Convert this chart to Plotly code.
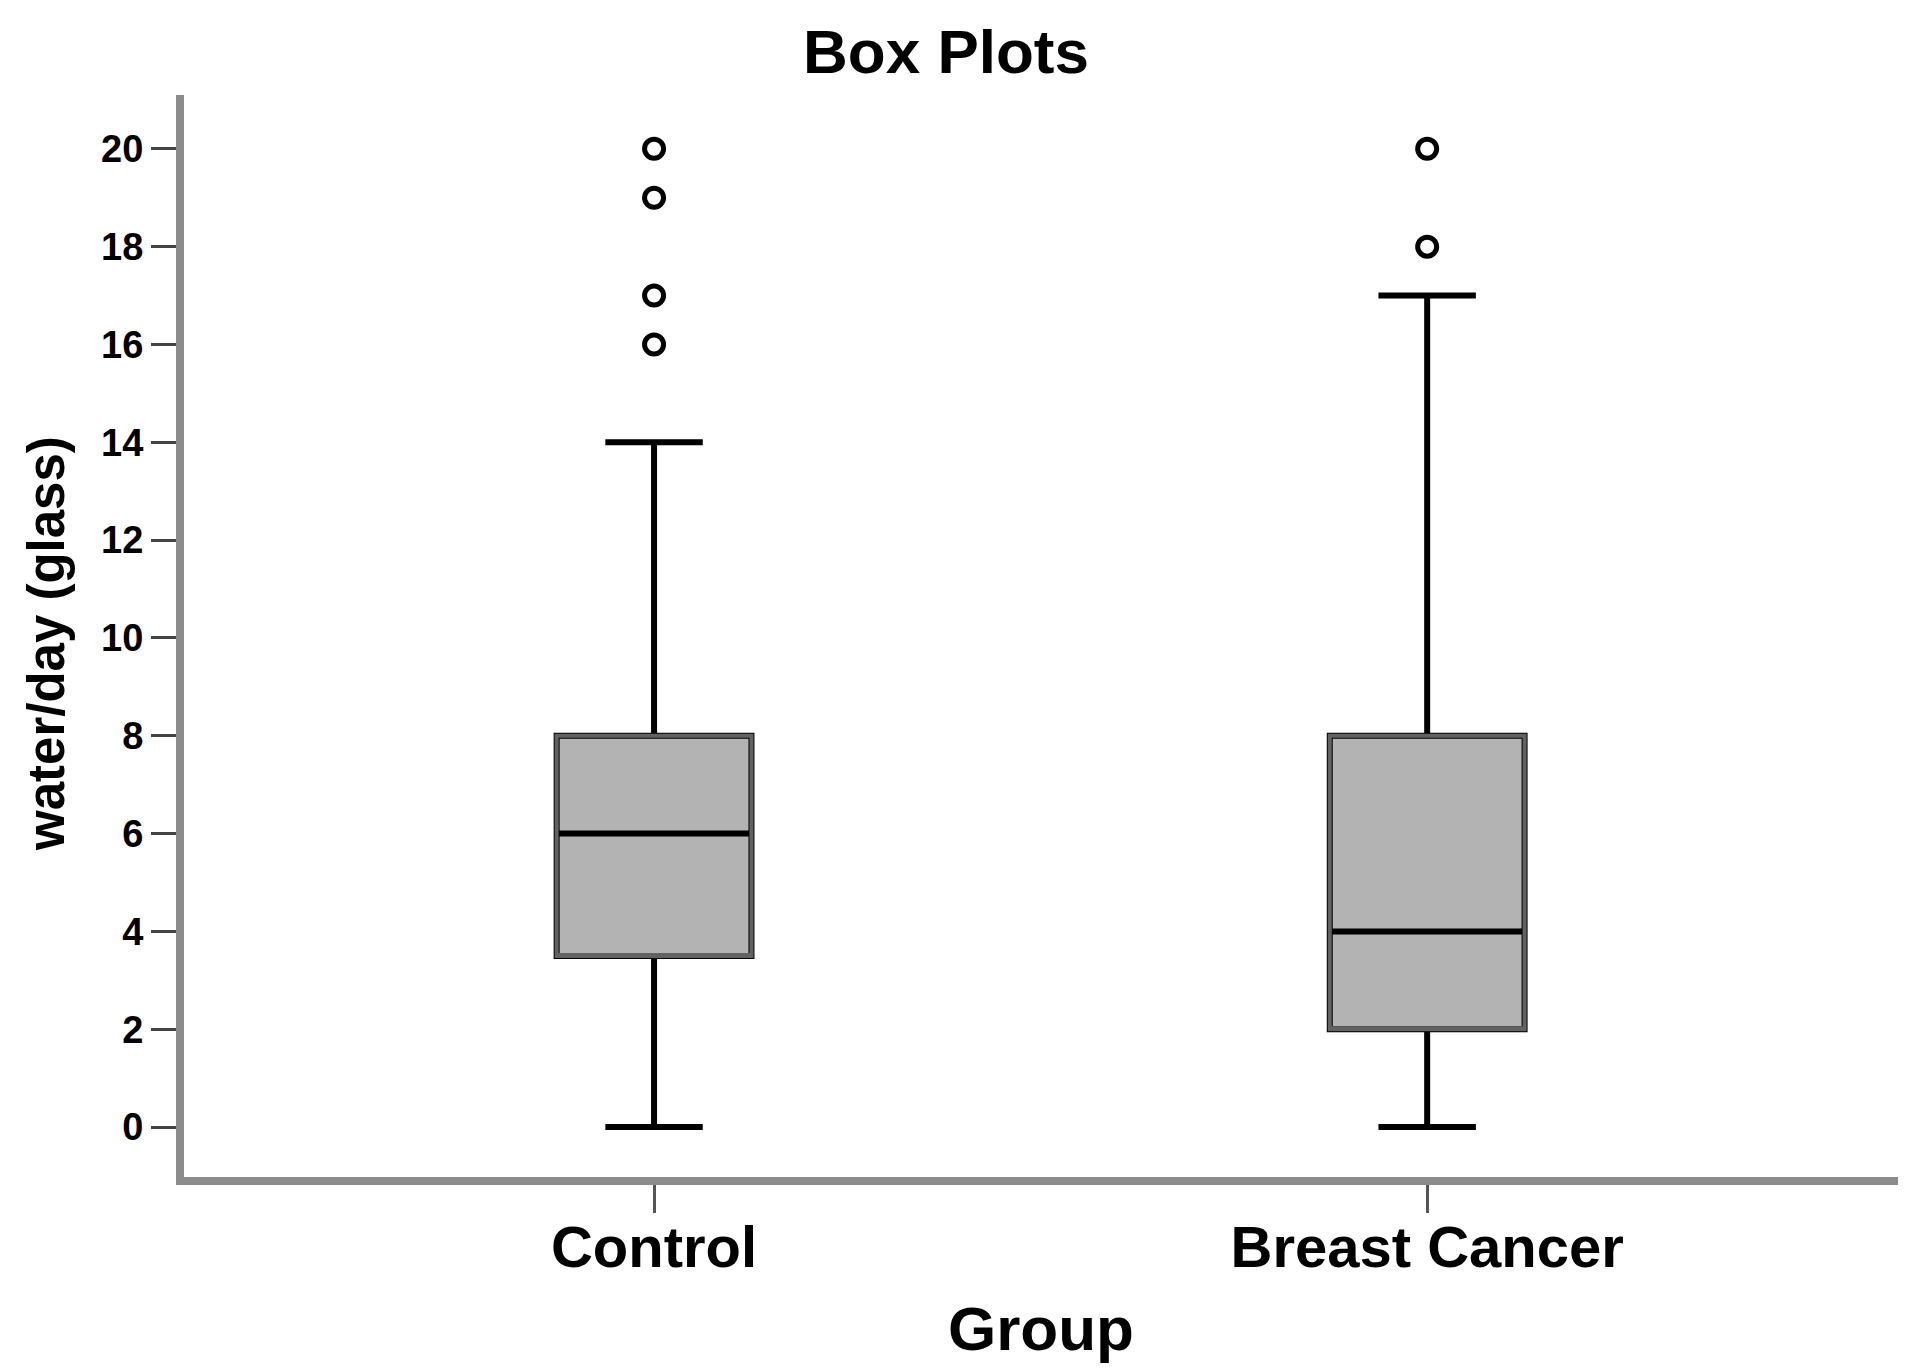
import plotly.graph_objects as go

# ---- data ----
groups = ["Control", "Breast Cancer"]
lower_fence = [0, 0]
q1 = [3.5, 2]
median = [6, 4]
q3 = [8, 8]
upper_fence = [14, 17]
control_outliers = [16, 17, 19, 20]
cancer_outliers = [18, 20]
y_ticks = [0, 2, 4, 6, 8, 10, 12, 14, 16, 18, 20]

title_text = "Box Plots"
x_title = "Group"
y_title = "water/day (glass)"

# page is shown with an 8px body margin
W, H = 1910, 1360
ML, MR, MT, MB = 176, 20, 87, 191
PW, PH = W - ML - MR, H - MT - MB

LABEL_FONT = "Liberation Sans, Arial, Helvetica, sans-serif"

fig = go.Figure()

# whiskers + median (black)
fig.add_trace(go.Box(
    x=groups, q1=q1, median=median, q3=q3,
    lowerfence=lower_fence, upperfence=upper_fence,
    width=0.252, whiskerwidth=0.5,
    fillcolor="#b3b3b3",
    line=dict(color="black", width=6),
    boxpoints=False, hoverinfo="skip", showlegend=False,
))
# box outline (gray) on top
fig.add_trace(go.Box(
    x=groups, q1=q1, median=q1, q3=q3,
    lowerfence=q1, upperfence=q3,
    width=0.252, whiskerwidth=0,
    fillcolor="rgba(0,0,0,0)",
    line=dict(color="#626262", width=4),
    boxpoints=False, hoverinfo="skip", showlegend=False,
))
# outliers
out_x = [groups[0]] * len(control_outliers) + [groups[1]] * len(cancer_outliers)
out_y = control_outliers + cancer_outliers
fig.add_trace(go.Scatter(
    x=out_x, y=out_y, mode="markers",
    marker=dict(symbol="circle-open", size=19, color="black",
                line=dict(width=5, color="black")),
    hoverinfo="skip", showlegend=False,
))

fig.update_layout(
    width=W, height=H,
    margin=dict(l=ML, r=MR, t=MT, b=MB, autoexpand=False),
    paper_bgcolor="white", plot_bgcolor="white",
    showlegend=False,
    title=dict(text=title_text, x=938 / W, xanchor="center",
               y=1 - 43 / H, yanchor="middle", xref="container", yref="container",
               font=dict(family=LABEL_FONT, size=62, color="black", weight="bold")),
    xaxis=dict(
        type="category", range=[-0.608, 1.609],
        showline=True, linecolor="#8c8c8c", linewidth=8,
        ticks="outside", ticklen=28, tickwidth=3, tickcolor="#555555",
        showgrid=False, zeroline=False, ticklabelstandoff=-16,
        tickfont=dict(family=LABEL_FONT, size=58, color="black", weight="bold"),
    ),
    yaxis=dict(
        range=[-1.02, 21.1],
        tickvals=y_ticks, ticktext=[str(v) for v in y_ticks],
        showline=True, linecolor="#8c8c8c", linewidth=8,
        ticks="outside", ticklen=25, tickwidth=3, tickcolor="#444444",
        showgrid=False, zeroline=False,
        tickfont=dict(family=LABEL_FONT, size=38, color="black", weight="bold"),
    ),
    annotations=[
        dict(text=x_title, xref="paper", yref="paper",
             x=0.5, y=-151 / PH,
             xanchor="center", yanchor="middle", showarrow=False,
             font=dict(family=LABEL_FONT, size=62, color="black", weight="bold")),
        dict(text=y_title, xref="paper", yref="paper",
             x=(38 - ML) / PW, y=((H - MB) - 636) / PH,
             xanchor="center", yanchor="middle", textangle=-90, showarrow=False,
             font=dict(family=LABEL_FONT, size=51, color="black", weight="bold")),
    ],
)

fig.write_html("out.html")
